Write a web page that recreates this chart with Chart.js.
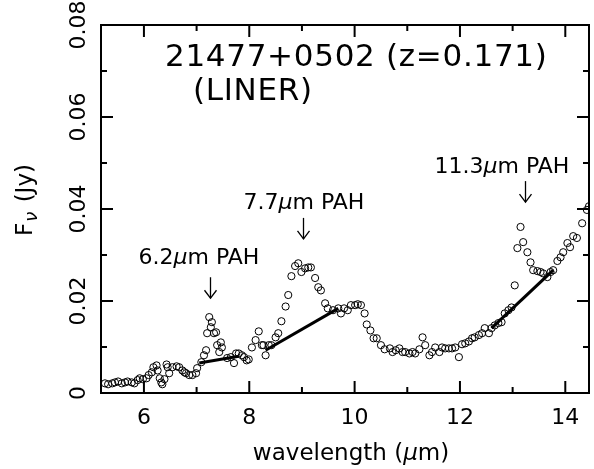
<!DOCTYPE html>
<html>
<head>
<meta charset="utf-8">
<script src="https://cdn.jsdelivr.net/npm/chart.js@4/dist/chart.umd.min.js"></script>
<style>
  html, body { margin: 0; padding: 0; background: #fff; }
  canvas { display: block; }
</style>
</head>
<body>
<canvas id="spec" width="594" height="469"></canvas>
<script>
// Observed-frame IRS spectrum (wavelength in micron, flux density in Jy)
const wavelength = [
  5.26,5.32,5.40,5.45,5.51,5.58,5.64,5.69,5.77,5.82,
  5.88,5.92,5.98,6.05,6.09,6.15,6.18,6.24,6.26,6.30,
  6.33,6.35,6.39,6.43,6.45,6.48,6.54,6.62,6.67,6.73,
  6.77,6.80,6.86,6.92,6.99,7.01,7.09,7.14,7.18,7.20,
  7.24,7.27,7.29,7.33,7.37,7.39,7.43,7.46,7.48,7.58,
  7.65,7.71,7.75,7.80,7.86,7.90,7.95,7.99,8.05,8.12,
  8.18,8.24,8.27,8.31,8.37,8.42,8.50,8.55,8.61,8.69,
  8.74,8.80,8.87,8.93,8.99,9.06,9.12,9.17,9.25,9.31,
  9.36,9.44,9.49,9.59,9.69,9.74,9.80,9.87,9.93,10.01,
  10.06,10.12,10.19,10.23,10.30,10.36,10.42,10.50,10.57,10.67,
  10.72,10.78,10.85,10.91,10.96,11.04,11.10,11.15,11.23,11.29,
  11.34,11.42,11.47,11.53,11.61,11.66,11.72,11.79,11.85,11.91,
  11.98,12.04,12.10,12.17,12.23,12.28,12.36,12.42,12.47,12.55,
  12.60,12.66,12.73,12.79,12.85,12.92,12.98,13.04,13.09,13.15,
  13.20,13.28,13.34,13.39,13.47,13.53,13.58,13.66,13.72,13.77,
  13.85,13.91,13.96,14.04,14.09,14.15,14.22,14.32,14.41,14.45
];
const flux = [
  0.0021,0.0019,0.0021,0.0023,0.0025,0.0021,0.0023,0.0025,0.0023,0.0021,
  0.0028,0.0032,0.0030,0.0032,0.0039,0.0045,0.0056,0.0060,0.0049,0.0032,
  0.0023,0.0019,0.0030,0.0062,0.0056,0.0043,0.0056,0.0058,0.0056,0.0049,
  0.0045,0.0043,0.0039,0.0039,0.0043,0.0054,0.0067,0.0082,0.0093,0.0130,
  0.0165,0.0143,0.0154,0.0130,0.0132,0.0104,0.0089,0.0110,0.0099,0.0076,
  0.0078,0.0065,0.0086,0.0086,0.0082,0.0078,0.0071,0.0073,0.0099,0.0115,
  0.0134,0.0104,0.0104,0.0082,0.0104,0.0104,0.0121,0.0130,0.0156,0.0188,
  0.0213,0.0254,0.0276,0.0282,0.0263,0.0271,0.0273,0.0273,0.0250,0.0230,
  0.0223,0.0195,0.0184,0.0180,0.0184,0.0173,0.0184,0.0180,0.0191,0.0191,
  0.0193,0.0191,0.0173,0.0149,0.0136,0.0119,0.0119,0.0104,0.0095,0.0097,
  0.0089,0.0093,0.0097,0.0089,0.0089,0.0086,0.0089,0.0086,0.0095,0.0121,
  0.0104,0.0082,0.0089,0.0099,0.0089,0.0099,0.0097,0.0097,0.0097,0.0099,
  0.0078,0.0106,0.0108,0.0112,0.0119,0.0121,0.0126,0.0130,0.0141,0.0130,
  0.0141,0.0147,0.0152,0.0154,0.0173,0.0180,0.0186,0.0234,0.0315,0.0361,
  0.0328,0.0306,0.0284,0.0267,0.0265,0.0263,0.0260,0.0252,0.0263,0.0267,
  0.0287,0.0295,0.0306,0.0326,0.0317,0.0341,0.0337,0.0369,0.0398,0.0406
];

// Linear continua adopted under each PAH feature
const cont62Wave  = [7.05, 7.80];
const cont62Flux  = [0.0065, 0.0080];
const cont77Wave  = [8.31, 9.69];
const cont77Flux  = [0.0093, 0.0184];
const cont113Wave = [12.60, 13.77];
const cont113Flux = [0.0141, 0.0267];

// Axis ticks
const xMajorTicks = [6, 8, 10, 12, 14];
const xMinorTicks = [7, 9, 11, 13];
const yMajorTicks = [0, 0.02, 0.04, 0.06, 0.08];
const yMinorTicks = [0.01, 0.03, 0.05, 0.07];
const yTickLabels = ['0', '0.02', '0.04', '0.06', '0.08'];

// PAH features (rest-frame name, observed wavelength)
const pahNames   = ['6.2', '7.7', '11.3'];
const pahObsWave = [7.26, 9.02, 13.23];

const sourceName  = '21477+0502';
const redshift    = '0.171';
const sourceClass = 'LINER';

// ---- drawing layout (pixels / flux levels for annotation arrows) ----
const FONT = '"DejaVu Sans", "Liberation Sans", sans-serif';
const arrowTipFlux = [0.0206, 0.0335, 0.0415];
const arrowLen = 21;
const labelDx = [-72, -60, -91];
const labelDy = [-34, -30, -29];

function toPoints(xs, ys) {
  return xs.map((v, i) => ({ x: v, y: ys[i] }));
}

// Draws a run of text pieces with individual fonts and vertical shifts
function drawRich(ctx, parts, x, y) {
  let cx = x;
  for (const p of parts) {
    ctx.font = p.font;
    ctx.fillText(p.t, cx, y + (p.dy || 0));
    cx += ctx.measureText(p.t).width + (p.gap || 0);
  }
}
function richWidth(ctx, parts) {
  let w = 0;
  for (const p of parts) { ctx.font = p.font; w += ctx.measureText(p.t).width + (p.gap || 0); }
  return w;
}

const framePlugin = {
  id: 'frameAndText',
  afterDatasetsDraw(chart) {
    const { ctx, chartArea: a } = chart;
    const xs = chart.scales.x, ys = chart.scales.y;
    ctx.save();
    ctx.strokeStyle = '#000';
    ctx.fillStyle = '#000';
    ctx.lineCap = 'butt';

    const seg = (x1, y1, x2, y2) => { ctx.beginPath(); ctx.moveTo(x1, y1); ctx.lineTo(x2, y2); ctx.stroke(); };

    // frame
    ctx.lineWidth = 2;
    ctx.strokeRect(a.left, a.top, a.right - a.left, a.bottom - a.top);

    // inward ticks on all four sides
    const MAJ = 12, MIN = 6;
    xMajorTicks.forEach(v => { const p = xs.getPixelForValue(v); seg(p, a.bottom, p, a.bottom - MAJ); seg(p, a.top, p, a.top + MAJ); });
    xMinorTicks.forEach(v => { const p = xs.getPixelForValue(v); seg(p, a.bottom, p, a.bottom - MIN); seg(p, a.top, p, a.top + MIN); });
    yMajorTicks.forEach(v => { const p = ys.getPixelForValue(v); seg(a.left, p, a.left + MAJ, p); seg(a.right, p, a.right - MAJ, p); });
    yMinorTicks.forEach(v => { const p = ys.getPixelForValue(v); seg(a.left, p, a.left + MIN, p); seg(a.right, p, a.right - MIN, p); });

    // x tick labels
    ctx.font = '22px ' + FONT;
    ctx.textAlign = 'center';
    ctx.textBaseline = 'alphabetic';
    xMajorTicks.forEach(v => { ctx.fillText(String(v), xs.getPixelForValue(v), 424); });

    // y tick labels, rotated
    ctx.font = '22px ' + FONT;
    yMajorTicks.forEach((v, i) => {
      const p = ys.getPixelForValue(v);
      ctx.save();
      ctx.translate(85, p);
      ctx.rotate(-Math.PI / 2);
      ctx.textAlign = 'center';
      ctx.fillText(yTickLabels[i], 0, 0);
      ctx.restore();
    });

    // x axis title
    ctx.textAlign = 'left';
    const xt = [
      { t: 'wavelength (', font: '23px ' + FONT },
      { t: 'μ', font: 'italic 23px ' + FONT },
      { t: 'm)', font: '23px ' + FONT }
    ];
    const xtw = richWidth(ctx, xt);
    drawRich(ctx, xt, 351 - xtw / 2, 460);

    // y axis title, rotated
    ctx.save();
    ctx.translate(32, 200);
    ctx.rotate(-Math.PI / 2);
    const yt = [
      { t: 'F', font: '23px ' + FONT, gap: 1 },
      { t: 'ν', font: 'italic 18px ' + FONT, dy: 5, gap: 2 },
      { t: ' (Jy)', font: '23px ' + FONT }
    ];
    const ytw = richWidth(ctx, yt);
    drawRich(ctx, yt, -ytw / 2, 0);
    ctx.restore();

    // object name, redshift and class
    ctx.font = '31px ' + FONT;
    ctx.textAlign = 'left';
    ctx.letterSpacing = '0.7px';
    ctx.fillText(sourceName + ' (z=' + redshift + ')', 165, 66);
    ctx.fillText('(' + sourceClass + ')', 193, 100);
    ctx.letterSpacing = '0px';

    // PAH feature markers
    ctx.lineWidth = 1.3;
    pahObsWave.forEach((w, i) => {
      const px = Math.round(xs.getPixelForValue(w)) + 0.5;
      const tip = ys.getPixelForValue(arrowTipFlux[i]);
      seg(px, tip, px, tip - arrowLen);
      ctx.beginPath();
      ctx.moveTo(px - 6, tip - 8);
      ctx.lineTo(px, tip);
      ctx.lineTo(px + 6, tip - 8);
      ctx.stroke();
      const lab = [
        { t: pahNames[i], font: '22px ' + FONT },
        { t: 'μ', font: 'italic 22px ' + FONT },
        { t: 'm PAH', font: '22px ' + FONT }
      ];
      drawRich(ctx, lab, px + labelDx[i], tip + labelDy[i]);
    });

    ctx.restore();
  }
};

new Chart(document.getElementById('spec').getContext('2d'), {
  type: 'scatter',
  data: {
    datasets: [
      {
        data: toPoints(wavelength, flux),
        showLine: false,
        pointStyle: 'circle',
        pointRadius: 3.6,
        pointBorderWidth: 1,
        borderColor: '#000',
        backgroundColor: 'rgba(0,0,0,0)'
      },
      { data: toPoints(cont62Wave, cont62Flux), showLine: true, borderColor: '#000', borderWidth: 3, pointRadius: 0 },
      { data: toPoints(cont77Wave, cont77Flux), showLine: true, borderColor: '#000', borderWidth: 3, pointRadius: 0 },
      { data: toPoints(cont113Wave, cont113Flux), showLine: true, borderColor: '#000', borderWidth: 3, pointRadius: 0 }
    ]
  },
  options: {
    responsive: false,
    animation: false,
    devicePixelRatio: 1,
    events: [],
    layout: { padding: { left: 101, top: 25, right: 1, bottom: 76 } },
    plugins: { legend: { display: false }, tooltip: { enabled: false } },
    scales: {
      x: { type: 'linear', min: 5.185, max: 14.45, display: false },
      y: { type: 'linear', min: 0, max: 0.08, display: false }
    }
  },
  plugins: [framePlugin]
});
</script>
</body>
</html>
